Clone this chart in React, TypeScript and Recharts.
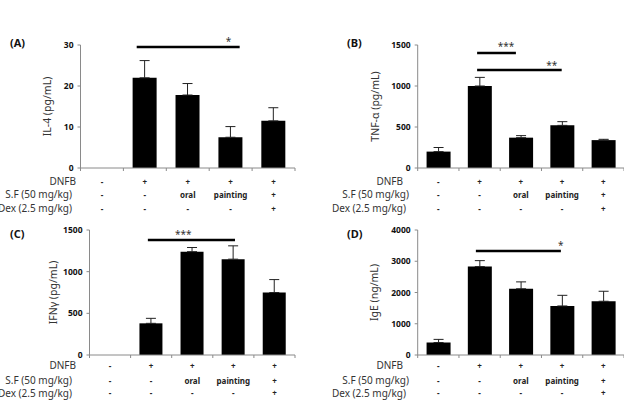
import React from 'react';
import { BarChart, Bar, XAxis, YAxis, ErrorBar, ReferenceLine, ReferenceDot } from 'recharts';

// treatment groups and the three rows printed under each bar
const groups = ['Normal', 'DNFB', 'DNFB+SF oral', 'DNFB+SF painting', 'DNFB+SF+Dex'];
const dnfbRow = ['-', '+', '+', '+', '+'];
const sfRow = ['-', '-', 'oral', 'painting', '+'];
const dexRow = ['-', '-', '-', '-', '+'];
const rowNames = ['DNFB', 'S.F (50 mg/kg)', 'Dex (2.5 mg/kg)'];

// (A) IL-4
const il4 = [0, 22, 17.8, 7.5, 11.5];
const il4Err = [0, 4.2, 2.8, 2.6, 3.2];
// (B) TNF-α
const tnf = [200, 1000, 370, 520, 340];
const tnfErr = [50, 105, 25, 45, 10];
// (C) IFNγ
const ifn = [0, 380, 1240, 1150, 750];
const ifnErr = [0, 60, 50, 160, 155];
// (D) IgE
const ige = [400, 2830, 2120, 1570, 1720];
const igeErr = [100, 190, 220, 340, 320];

const il4Ticks = [0, 10, 20, 30];
const tnfTicks = [0, 500, 1000, 1500];
const ifnTicks = [0, 500, 1000, 1500];
const igeTicks = [0, 1000, 2000, 3000, 4000];

// significance brackets, x in group units (0..5)
const il4Sig = [{ from: 1.31, to: 3.71, y: 29.5, stars: '*', sx: 3.45, sy: 31.7 }];
const tnfSig = [
  { from: 1.44, to: 2.38, y: 1402, stars: '***', sx: 2.14, sy: 1524 },
  { from: 1.44, to: 3.49, y: 1195, stars: '**', sx: 3.25, sy: 1293 },
];
const ifnSig = [{ from: 1.42, to: 3.54, y: 1380, stars: '***', sx: 2.28, sy: 1488 }];
const igeSig = [{ from: 1.41, to: 3.47, y: 3328, stars: '*', sx: 3.47, sy: 3616 }];

const FONT = '"Noto Sans", "DejaVu Sans", sans-serif';
const AXIS = '#8a8a8a';

type Sig = { from: number; to: number; y: number; stars: string; sx: number; sy: number };

const makeData = (vals: number[], errs: number[]) =>
  groups.map((g, i) => ({ group: g, pos: i + 0.5, value: vals[i], err: [0, errs[i]] }));

const RowTick = ({ x, y, index, rows }: any) => {
  const vals = [dnfbRow[index], sfRow[index], dexRow[index]];
  return (
    <g>
      {vals.map((v, r) => (
        <text
          key={r}
          x={x}
          y={y + rows[r]}
          textAnchor="middle"
          dominantBaseline="central"
          fontSize={8}
          fontWeight="bold"
          fill="#222"
        >
          {v}
        </text>
      ))}
    </g>
  );
};

const NoLabel = () => <g />;

interface PanelProps {
  left: number;
  top: number;
  width: number;
  height: number;
  margin: { top: number; right: number; left: number; bottom: number };
  yW: number;
  labelOffset: number;
  axisH: number;
  rows: number[];
  vals: number[];
  errs: number[];
  domain: [number, number];
  ticks: number[];
  ylabel: string;
  sig: Sig[];
}

const Panel = (p: PanelProps) => (
  <div style={{ position: 'absolute', left: p.left, top: p.top }}>
    <BarChart
      width={p.width}
      height={p.height}
      data={makeData(p.vals, p.errs)}
      margin={p.margin}
      barCategoryGap="21.5%"
      style={{ overflow: 'visible' }}
    >
      {/* rows of +/- under each group (sits just under the line axis) */}
      <XAxis
        xAxisId="b"
        dataKey="group"
        axisLine={false}
        tickLine={false}
        tickSize={0}
        tickMargin={0}
        height={p.axisH - 1}
        interval={0}
        tick={<RowTick rows={p.rows} />}
      />
      {/* numeric axis 0..5: baseline, boundary ticks, bracket positions */}
      <XAxis
        xAxisId="a"
        dataKey="pos"
        type="number"
        domain={[0, 5]}
        ticks={[0, 1, 2, 3, 4, 5]}
        tick={NoLabel}
        tickSize={3}
        height={1}
        axisLine={{ stroke: AXIS }}
        tickLine={{ stroke: AXIS }}
        allowDataOverflow
      />
      <YAxis
        domain={p.domain}
        ticks={p.ticks}
        width={p.yW}
        tickSize={3}
        tickMargin={4}
        axisLine={{ stroke: AXIS }}
        tickLine={{ stroke: AXIS }}
        tick={{ fontSize: 8.5, fontWeight: 'bold', fill: '#111' }}
        label={{
          value: p.ylabel,
          angle: -90,
          position: 'insideLeft',
          offset: p.labelOffset,
          style: { textAnchor: 'middle', fontSize: 10.5, fill: '#333' },
        }}
      />
      <Bar dataKey="value" xAxisId="b" fill="#000" isAnimationActive={false}>
        <ErrorBar dataKey="err" width={5} stroke="#222" strokeWidth={1} direction="y" />
      </Bar>
      {p.sig.map((s, i) => (
        <ReferenceLine
          key={'l' + i}
          xAxisId="a"
          segment={[
            { x: s.from, y: s.y },
            { x: s.to, y: s.y },
          ]}
          stroke="#000"
          strokeWidth={2.5}
          ifOverflow="visible"
        />
      ))}
      {p.sig.map((s, i) => (
        <ReferenceDot
          key={'s' + i}
          xAxisId="a"
          x={s.sx}
          y={s.sy}
          r={0}
          ifOverflow="visible"
          shape={(d: any) => (
            <text
              x={d.cx}
              y={d.cy + 3}
              textAnchor="middle"
              dominantBaseline="central"
              fontSize={10}
              fill="#333"
            >
              {s.stars}
            </text>
          )}
        />
      ))}
    </BarChart>
  </div>
);

const RowLabel = ({ text, right, cy }: { text: string; right: number; cy: number }) => (
  <div
    style={{
      position: 'absolute',
      right: 624 - right,
      top: cy - 7,
      lineHeight: '14px',
      fontSize: 10,
      color: '#333',
      whiteSpace: 'nowrap',
    }}
  >
    {text}
  </div>
);

const PanelTag = ({ text, left, cy }: { text: string; left: number; cy: number }) => (
  <div
    style={{
      position: 'absolute',
      left,
      top: cy - 8,
      lineHeight: '16px',
      fontSize: 11,
      fontWeight: 'bold',
      color: '#111',
    }}
  >
    {text}
  </div>
);

const topRowsY = [181, 194, 208];
const bottomRowsY = [365, 380, 392.5];
const leftRowRight = [76, 72, 72];
const rightRowRight = [403, 409, 406];

export default function App() {
  return (
    <div
      style={{
        position: 'absolute',
        left: 0,
        top: 0,
        width: 624,
        height: 404,
        background: '#fff',
        fontFamily: FONT,
        overflow: 'hidden',
      }}
    >
      <Panel
        left={0}
        top={0}
        width={312}
        height={215}
        margin={{ top: 45, right: 17, left: 40.5, bottom: 0 }}
        yW={40}
        labelOffset={6.5}
        axisH={47}
        rows={[12, 25, 39]}
        vals={il4}
        errs={il4Err}
        domain={[0, 30]}
        ticks={il4Ticks}
        ylabel="IL-4 (pg/mL)"
        sig={il4Sig}
      />
      <Panel
        left={312}
        top={0}
        width={312}
        height={215}
        margin={{ top: 45, right: 0, left: 55.7, bottom: 0 }}
        yW={50}
        labelOffset={7.3}
        axisH={47}
        rows={[12, 25, 39]}
        vals={tnf}
        errs={tnfErr}
        domain={[0, 1500]}
        ticks={tnfTicks}
        ylabel="TNF-α (pg/mL)"
        sig={tnfSig}
      />
      <Panel
        left={0}
        top={202}
        width={312}
        height={202}
        margin={{ top: 28, right: 17, left: 49.5, bottom: 0 }}
        yW={40}
        labelOffset={3.5}
        axisH={49}
        rows={[9, 24, 36.5]}
        vals={ifn}
        errs={ifnErr}
        domain={[0, 1500]}
        ticks={ifnTicks}
        ylabel="IFNγ (pg/mL)"
        sig={ifnSig}
      />
      <Panel
        left={312}
        top={202}
        width={312}
        height={202}
        margin={{ top: 28, right: 0, left: 55.7, bottom: 0 }}
        yW={50}
        labelOffset={6.3}
        axisH={49}
        rows={[9, 24, 36.5]}
        vals={ige}
        errs={igeErr}
        domain={[0, 4000]}
        ticks={igeTicks}
        ylabel="IgE (ng/mL)"
        sig={igeSig}
      />
      {rowNames.map((n, i) => (
        <React.Fragment key={n}>
          <RowLabel text={n} right={leftRowRight[i]} cy={topRowsY[i]} />
          <RowLabel text={n} right={rightRowRight[i]} cy={topRowsY[i]} />
          <RowLabel text={n} right={leftRowRight[i]} cy={bottomRowsY[i]} />
          <RowLabel text={n} right={rightRowRight[i]} cy={bottomRowsY[i]} />
        </React.Fragment>
      ))}
      <PanelTag text="(A)" left={10} cy={43} />
      <PanelTag text="(B)" left={347} cy={43} />
      <PanelTag text="(C)" left={10} cy={234} />
      <PanelTag text="(D)" left={347} cy={234} />
    </div>
  );
}
